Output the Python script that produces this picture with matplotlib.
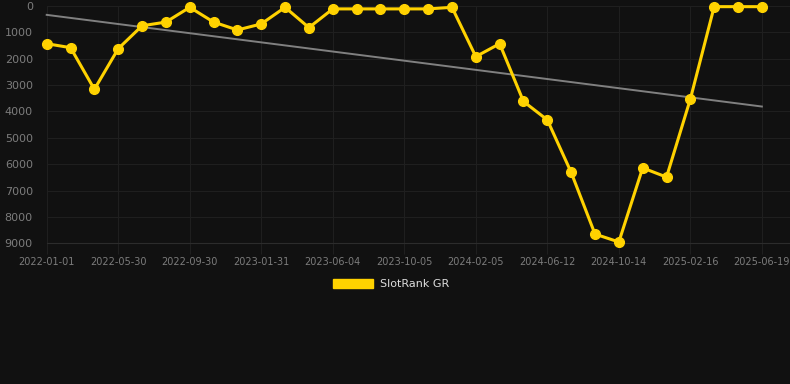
import matplotlib
matplotlib.use("Agg")
import matplotlib.pyplot as plt
import numpy as np
from matplotlib.patches import Patch

dates = ["2022-01-01", "", "", "2022-05-30", "", "", "2022-09-30", "", "", "2023-01-31",
         "", "", "2023-06-04", "", "", "2023-10-05", "", "", "2024-02-05", "", "",
         "2024-06-12", "", "", "2024-10-14", "", "", "2025-02-16", "", "", "2025-06-19"]
rank = [1430, 1580, 3160, 1620, 750, 610, 50, 610, 910, 680, 50, 820, 110, 110, 110,
        110, 110, 50, 1920, 1430, 3620, 4320, 6310, 8650, 8950, 6140, 6490, 3530, 25, 25, 25]
yticks = [0, 1000, 2000, 3000, 4000, 5000, 6000, 7000, 8000, 9000]
series_name = "SlotRank GR"

bg = "#111111"
gold = "#FFD200"
grid_c = "#1f1f1f"
tick_c = "#7c7c7c"

fig = plt.figure(figsize=(7.9, 3.84), dpi=100, facecolor=bg)
ax = fig.add_axes([46.7 / 790, 1 - 243.3 / 384, 1 - 46.7 / 790, (243.3 - 6) / 384])
ax.set_facecolor(bg)

x = np.arange(len(rank))
coef = np.polyfit(x, rank, 1)
ax.plot(x, np.polyval(coef, x), color="#808080", lw=1.4, zorder=2, clip_on=False)
ax.plot(x, rank, color=gold, lw=2.2, marker="o", markersize=7, zorder=3, clip_on=False)

ax.set_ylim(9000, 0)
ax.set_xlim(0, 31.18)
ax.set_yticks(yticks)
ax.set_yticklabels([str(v) for v in yticks])
tick_idx = [i for i, d in enumerate(dates) if d]
ax.set_xticks(tick_idx)
ax.set_xticklabels([dates[i] for i in tick_idx])

ax.grid(True, color=grid_c, lw=0.8, zorder=0)
for s in ["top", "right", "left"]:
    ax.spines[s].set_visible(False)
ax.spines["bottom"].set_color("#2c2c2c")
ax.tick_params(axis="y", length=0, pad=10, labelsize=8, labelcolor=tick_c)
ax.tick_params(axis="x", length=8, color=grid_c, pad=2, labelsize=7, labelcolor=tick_c)

fig.legend(handles=[Patch(facecolor=gold, edgecolor=gold, label=series_name)],
           loc="center", bbox_to_anchor=(0.495, 1 - 284 / 384), frameon=False,
           handlelength=3.6, handleheight=0.9, handletextpad=0.6,
           fontsize=8, labelcolor="#dddddd")

fig.savefig("out.png", dpi=100, facecolor=bg)
